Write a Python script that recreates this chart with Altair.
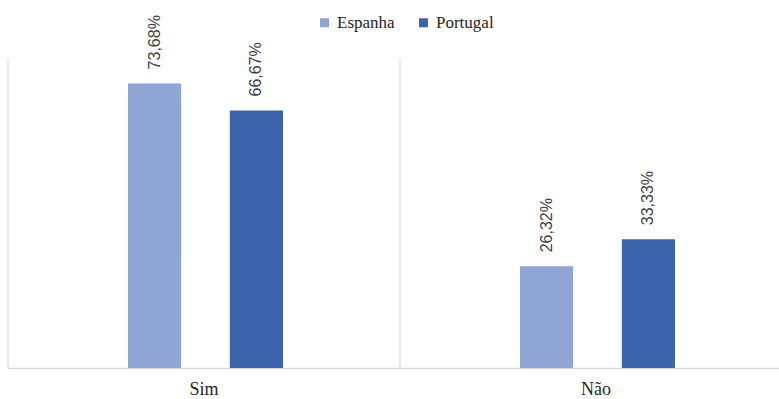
import altair as alt
import pandas as pd

# Answer categories, countries and the share (%) of each answer
categories = ["Sim", "Não"]
countries = ["Espanha", "Portugal"]
espanha = [73.68, 26.32]
portugal = [66.67, 33.33]
colors = ["#8FA5D5", "#3B64AD"]

rows = []
for i, cat in enumerate(categories):
    for country, series in zip(countries, [espanha, portugal]):
        v = series[i]
        rows.append({
            "resposta": cat,
            "pais": country,
            "valor": v,
            "rotulo": f"{v:.2f}".replace(".", ",") + "%",
        })
df = pd.DataFrame(rows)
cat_df = pd.DataFrame({"resposta": categories})

x_scale = alt.Scale(domain=categories, range=[0, 784], paddingInner=0, paddingOuter=0)
x_axis = alt.Axis(
    title=None,
    labelAngle=0,
    labelFont="Liberation Serif",
    labelFontSize=18,
    labelColor="#262626",
    labelPadding=12,
    ticks=False,
    grid=False,
    domainColor="#d9d9d9",
    domainWidth=1.5,
)

x = alt.X("resposta:N", sort=categories, scale=x_scale, axis=x_axis)
x_off = alt.XOffset(
    "pais:N",
    sort=countries,
    scale=alt.Scale(domain=countries, range=[120, 275], paddingInner=0.478, paddingOuter=0),
)
y = alt.Y("valor:Q", scale=alt.Scale(domain=[0, 80]), axis=None)

# vertical separators at the start of each category band
separators = alt.Chart(cat_df).mark_rule(color="#e3e3e3", strokeWidth=1.5).encode(
    x=alt.X("resposta:N", sort=categories, scale=x_scale, bandPosition=0, axis=x_axis),
    y=alt.value(0),
    y2=alt.value({"expr": "height"}),
)

bars = alt.Chart(df).mark_bar().encode(
    x=x,
    xOffset=x_off,
    y=y,
    color=alt.Color(
        "pais:N",
        sort=countries,
        scale=alt.Scale(domain=countries, range=colors),
        legend=alt.Legend(
            title=None,
            orient="none",
            direction="horizontal",
            legendX=308,
            legendY=-45,
            symbolType="square",
            symbolSize=81,
            symbolStrokeWidth=0,
            labelFont="Liberation Serif",
            labelFontSize=17,
            labelColor="#262626",
            labelOffset=4,
            columnPadding=20,
            padding=0,
        ),
    ),
)

labels = alt.Chart(df).mark_text(
    angle=270,
    align="left",
    baseline="middle",
    dx=14,
    font="Liberation Sans",
    fontSize=16,
    color="#404040",
).encode(
    x=x,
    xOffset=x_off,
    y=y,
    text="rotulo:N",
)

chart = (
    alt.layer(separators, bars, labels)
    .properties(
        width=771,
        height=309,
        background="white",
        autosize=alt.AutoSizeParams(type="none"),
        padding={"left": 8, "top": 59, "right": 0, "bottom": 31},
    )
    .configure_view(strokeWidth=0)
)

chart.save("out.html", embed_options={"renderer": "svg", "actions": False})
